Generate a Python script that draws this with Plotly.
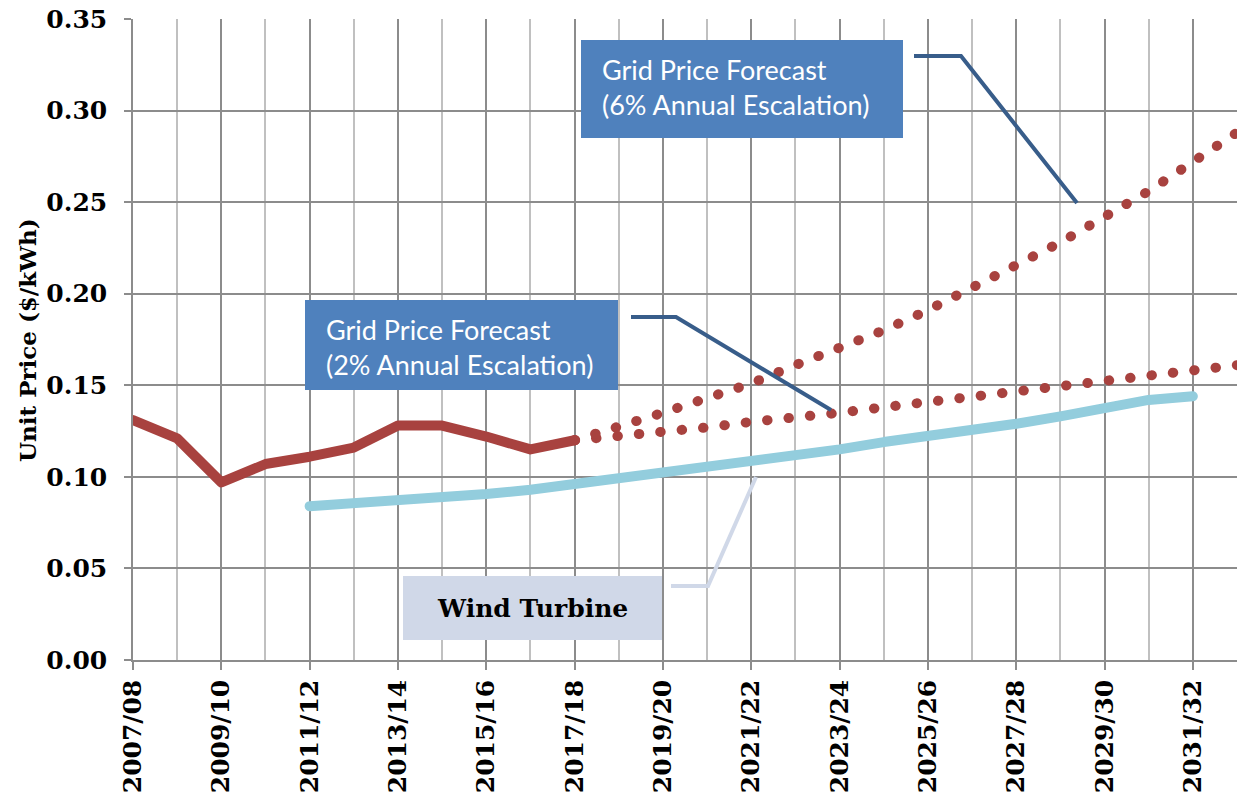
import plotly.graph_objects as go

# ---------------- data ----------------
years = ["2007/08", "2008/09", "2009/10", "2010/11", "2011/12", "2012/13", "2013/14",
         "2014/15", "2015/16", "2016/17", "2017/18", "2018/19", "2019/20", "2020/21",
         "2021/22", "2022/23", "2023/24", "2024/25", "2025/26", "2026/27", "2027/28",
         "2028/29", "2029/30", "2030/31", "2031/32", "2032/33"]

hist_years = years[0:11]
hist_price = [0.131, 0.121, 0.097, 0.107, 0.111, 0.116, 0.128, 0.128, 0.122, 0.115, 0.120]

fc_years = years[10:26]
fc_6pct = [0.120, 0.127, 0.135, 0.143, 0.151, 0.161, 0.170, 0.180, 0.191, 0.203,
           0.215, 0.228, 0.242, 0.256, 0.272, 0.288]
fc_2pct = [0.120, 0.122, 0.125, 0.127, 0.130, 0.132, 0.135, 0.138, 0.141, 0.143,
           0.146, 0.149, 0.152, 0.155, 0.158, 0.161]

wind_years = years[4:25]
wind_price = [0.084, 0.0855, 0.087, 0.0888, 0.0906, 0.093, 0.096, 0.099, 0.103, 0.106,
              0.109, 0.112, 0.115, 0.119, 0.122, 0.126, 0.129, 0.133, 0.137, 0.142, 0.144]

y_ticks = [0.00, 0.05, 0.10, 0.15, 0.20, 0.25, 0.30, 0.35]

# ---------------- styling ----------------
RED = "#A8423F"
WIND = "#93CDDD"
BOX = "#4F81BD"
CONNECTOR = "#385D8A"
WIND_BOX = "#D0D8E8"
GRID_DARK = "#8C8C8C"
GRID_LIGHT = "#C0C0C0"
SERIF = "DejaVu Serif"
SANS = "Lato"

W, H = 1238, 803
L, R, T, B = 133, 1, 19, 143
PW, PH = W - L - R, H - T - B

idx = {y: i for i, y in enumerate(years)}


def px(xp):
    return (xp - L) / PW


def py(yp):
    return (H - B - yp) / PH


fig = go.Figure()

fig.add_trace(go.Scatter(x=[idx[y] for y in wind_years], y=wind_price, mode="lines",
                         line=dict(color=WIND, width=10), showlegend=False, hoverinfo="skip"))
fig.add_trace(go.Scatter(x=[idx[y] for y in fc_years], y=fc_2pct, mode="lines",
                         line=dict(color=RED, width=10, dash="0.5px,21px"), showlegend=False))
fig.add_trace(go.Scatter(x=[idx[y] for y in fc_years], y=fc_6pct, mode="lines",
                         line=dict(color=RED, width=10, dash="0.5px,21px"), showlegend=False))
fig.add_trace(go.Scatter(x=[idx[y] for y in hist_years], y=hist_price, mode="lines",
                         line=dict(color=RED, width=10), showlegend=False))

shapes = []
annotations = []

# 6% box
shapes.append(dict(type="rect", xref="paper", yref="paper", x0=px(581), x1=px(903),
                   y0=py(138), y1=py(40), fillcolor=BOX, line=dict(width=0), layer="above"))
annotations.append(dict(xref="paper", yref="paper", x=px(600), y=py(87), xanchor="left",
                        yanchor="middle", align="left", showarrow=False,
                        text="Grid Price Forecast<br>(6% Annual Escalation)",
                        font=dict(family=SANS, size=27, color="white")))
shapes.append(dict(type="path", xref="paper", yref="paper",
                   path=f"M {px(914)},{py(56)} L {px(961)},{py(56)} L {px(1077)},{py(203)}",
                   line=dict(color=CONNECTOR, width=4), layer="above"))

# 2% box
shapes.append(dict(type="rect", xref="paper", yref="paper", x0=px(305), x1=px(618),
                   y0=py(390), y1=py(300), fillcolor=BOX, line=dict(width=0), layer="above"))
annotations.append(dict(xref="paper", yref="paper", x=px(324), y=py(347), xanchor="left",
                        yanchor="middle", align="left", showarrow=False,
                        text="Grid Price Forecast<br>(2% Annual Escalation)",
                        font=dict(family=SANS, size=27, color="white")))
shapes.append(dict(type="path", xref="paper", yref="paper",
                   path=f"M {px(631)},{py(317)} L {px(676)},{py(317)} L {px(831)},{py(410)}",
                   line=dict(color=CONNECTOR, width=4), layer="above"))

# Wind box
shapes.append(dict(type="rect", xref="paper", yref="paper", x0=px(403), x1=px(662),
                   y0=py(640), y1=py(576), fillcolor=WIND_BOX, line=dict(width=0), layer="above"))
annotations.append(dict(xref="paper", yref="paper", x=px(532), y=py(608), xanchor="center",
                        yanchor="middle", showarrow=False, text="<b>Wind Turbine</b>",
                        font=dict(family=SERIF, size=25, color="black")))
shapes.append(dict(type="path", xref="paper", yref="paper",
                   path=f"M {px(671)},{py(586)} L {px(708)},{py(586)} L {px(756)},{py(477)}",
                   line=dict(color=WIND_BOX, width=4), layer="above"))

# y-axis title
annotations.append(dict(xref="paper", yref="paper", x=px(27), y=py(340), xanchor="center",
                        yanchor="middle", showarrow=False, textangle=-90,
                        text="<b>Unit Price ($/kWh)</b>",
                        font=dict(family=SERIF, size=23, color="black")))

fig.update_layout(
    width=W, height=H,
    margin=dict(l=L, r=R, t=T, b=B, pad=0),
    paper_bgcolor="white", plot_bgcolor="white",
    showlegend=False,
    shapes=shapes, annotations=annotations,
    xaxis=dict(
        range=[0, len(years) - 1], tickmode="array",
        tickvals=list(range(0, len(years), 2)), ticktext=years[0::2],
        tickangle=-90, ticks="outside", ticklen=8, tickwidth=1.5, tickcolor=GRID_DARK,
        tickfont=dict(family=SERIF, size=25, color="black", weight="bold"),
        showgrid=True, gridcolor=GRID_DARK, gridwidth=1.5,
        minor=dict(dtick=1, tick0=0, showgrid=True, gridcolor=GRID_LIGHT, gridwidth=1.5),
        showline=True, linecolor=GRID_DARK, linewidth=1.5,
        zeroline=False, fixedrange=True,
    ),
    yaxis=dict(
        range=[0, 0.35], tickmode="array", tickvals=y_ticks,
        ticktext=[f"{v:.2f}" for v in y_ticks],
        ticks="outside", ticklen=7, tickwidth=1.5, tickcolor=GRID_DARK,
        ticklabelstandoff=12,
        tickfont=dict(family=SERIF, size=25, color="black", weight="bold"),
        showgrid=True, gridcolor=GRID_DARK, gridwidth=1.5,
        showline=True, linecolor=GRID_DARK, linewidth=1.5,
        zeroline=False, fixedrange=True,
    ),
)

post = """
document.body.style.margin = '0';
document.body.style.padding = '0';
var gd = document.getElementsByClassName('plotly-graph-div')[0];
function roundCaps(){
  gd.querySelectorAll('.scatterlayer path.js-line').forEach(function(p){
    p.style.strokeLinecap = 'round';
    p.style.strokeLinejoin = 'round';
  });
}
roundCaps();
if (gd.on) { gd.on('plotly_afterplot', roundCaps); }
"""

fig.write_html("out.html", post_script=post, config={"displayModeBar": False})
